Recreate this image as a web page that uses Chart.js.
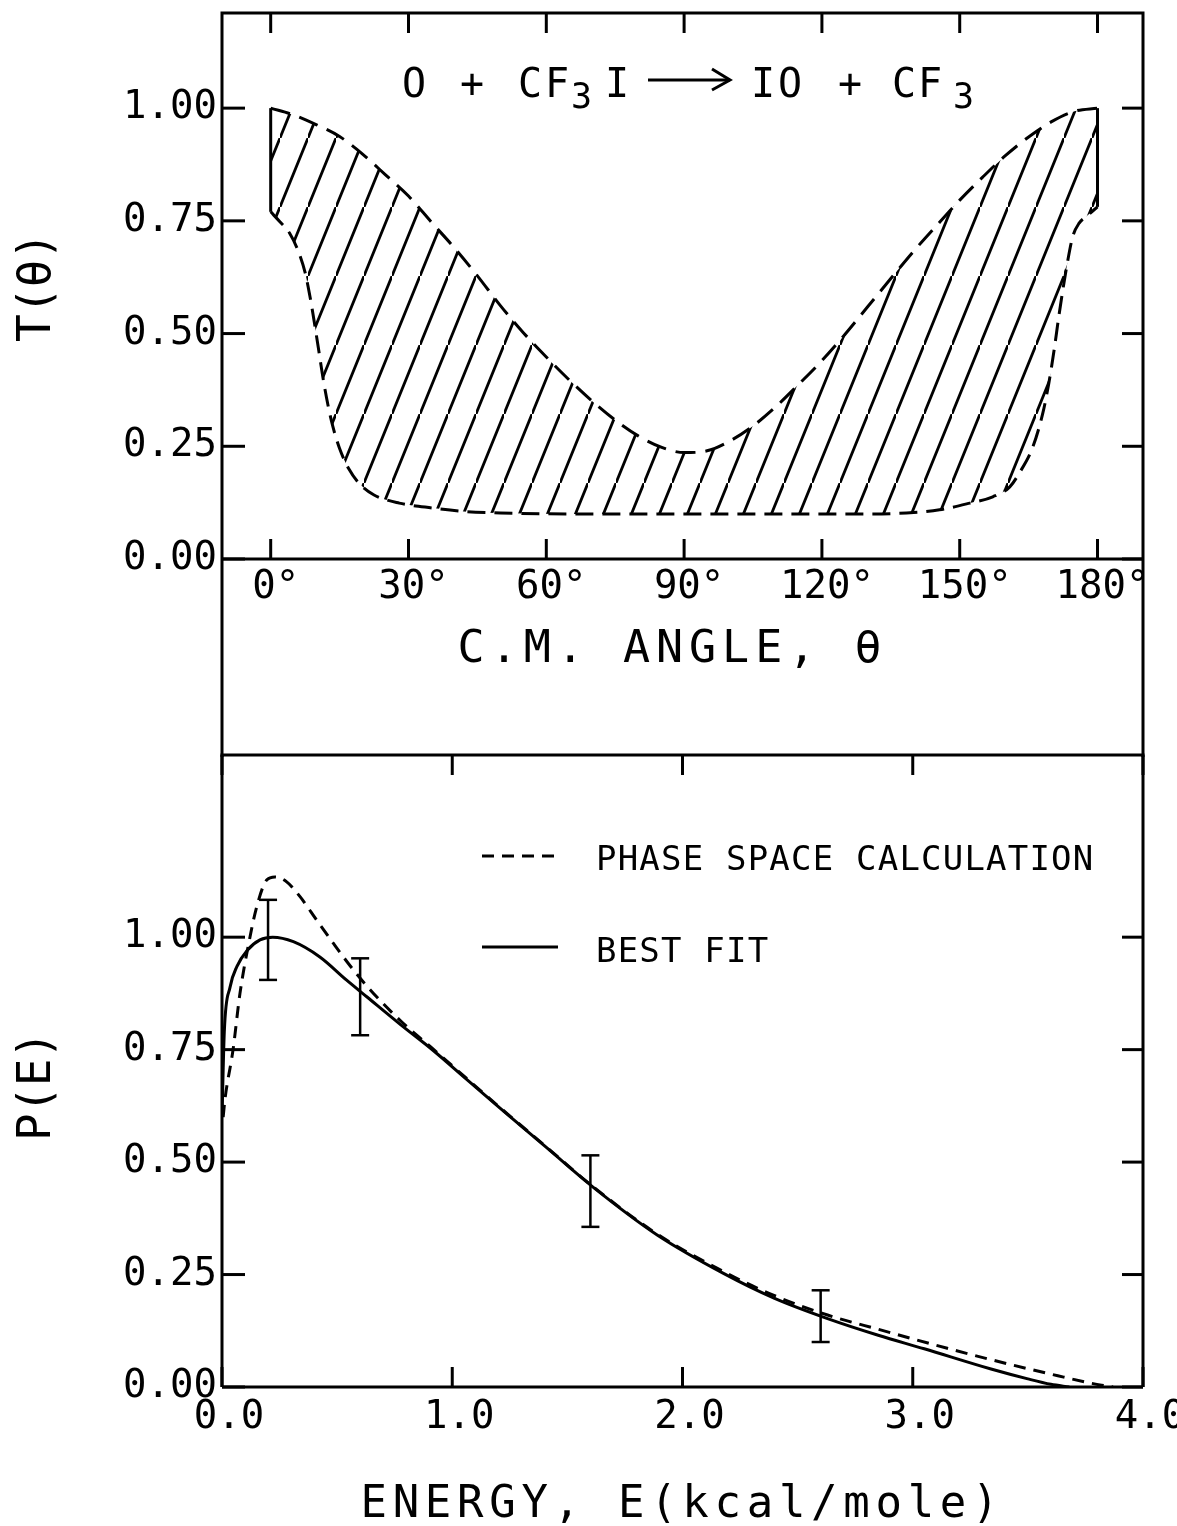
<!DOCTYPE html>
<html>
<head>
<meta charset="utf-8">
<script src="https://cdn.jsdelivr.net/npm/chart.js@4.4.1/dist/chart.umd.min.js"></script>
<style>
    html, body { margin: 0; padding: 0; background: #fff; }
    body { width: 1177px; height: 1526px; position: relative; overflow: hidden; }
    canvas { position: absolute; left: 0; }
    #angleChart { top: 0; }
    #energyChart { top: 745px; }
</style>
</head>
<body>
<canvas id="angleChart" width="1177" height="757"></canvas>
<canvas id="energyChart" width="1177" height="781"></canvas>
<script>
// T(theta) band for O + CF3I -> IO + CF3
const upperAngle = [0, 5, 10, 15, 20, 25, 30, 35, 40, 45, 50, 55, 60, 65, 70, 75, 80, 85, 90,
    95, 100, 105, 110, 115, 120, 125, 130, 135, 140, 145, 150, 155, 160, 165, 170, 175, 180];
const upperT = [1.0, 0.985, 0.963, 0.937, 0.898, 0.852, 0.805, 0.747, 0.69, 0.628, 0.562, 0.502, 0.448, 0.397, 0.35, 0.308, 0.273, 0.248, 0.236,
    0.24, 0.262, 0.295, 0.338, 0.388, 0.44, 0.498, 0.56, 0.622, 0.683, 0.74, 0.796, 0.847, 0.895, 0.936, 0.97, 0.993, 1.0];
const lowerAngle = [0, 2, 4.1, 6.3, 7.5, 8.5, 9.5, 10.5, 11.5, 12.5, 13.5, 15, 17, 19.5, 22.5, 28, 35.3, 42.6, 50, 65, 90, 115,
    130, 138.4, 145.6, 152.2, 157.2, 160.9, 163, 165.9, 168.1, 169.4, 170.5, 171.6, 172.5, 173.4, 174.6, 176, 177.6, 180];
const lowerT = [0.77, 0.748, 0.723, 0.675, 0.635, 0.585, 0.525, 0.46, 0.395, 0.34, 0.295, 0.245, 0.2, 0.165, 0.142, 0.124, 0.113, 0.105, 0.102, 0.1, 0.1, 0.1,
    0.1, 0.102, 0.109, 0.124, 0.138, 0.16, 0.191, 0.248, 0.324, 0.39, 0.46, 0.54, 0.6, 0.655, 0.715, 0.745, 0.76, 0.781];
const angleTicks = [0, 30, 60, 90, 120, 150, 180];
const tTicks = [0, 0.25, 0.5, 0.75, 1.0];

// P(E) curves and measured points with error bars
const bestFitE = [0, 0.01, 0.035, 0.065, 0.11, 0.165, 0.22, 0.31, 0.425, 0.54, 0.63, 0.77, 0.92, 1.06, 1.21, 1.41, 1.61, 1.89, 2.18,
    2.4, 2.63, 2.85, 3.05, 3.34, 3.5, 3.6, 3.68];
const bestFitP = [0.6, 0.79, 0.889, 0.935, 0.971, 0.994, 1.0, 0.99, 0.956, 0.905, 0.867, 0.808, 0.747, 0.685, 0.619, 0.532, 0.445, 0.338, 0.252,
    0.197, 0.152, 0.115, 0.085, 0.04, 0.018, 0.006, 0];
const phaseE = [0.005, 0.013, 0.048, 0.078, 0.113, 0.151, 0.194, 0.23, 0.281, 0.339, 0.411, 0.484, 0.571, 0.658, 0.78, 0.92, 1.06, 1.21, 1.41, 1.61,
    1.89, 2.18, 2.4, 2.63, 2.86, 3.15, 3.44, 3.63, 3.75, 3.82, 3.87];
const phaseP = [0.6, 0.64, 0.75, 0.875, 0.978, 1.068, 1.127, 1.134, 1.123, 1.09, 1.038, 0.986, 0.927, 0.875, 0.812, 0.75, 0.687, 0.62, 0.533, 0.446,
    0.34, 0.256, 0.203, 0.16, 0.127, 0.086, 0.048, 0.025, 0.011, 0.004, 0];
const errE = [0.2, 0.6, 1.6, 2.6];
const errLow = [0.905, 0.782, 0.356, 0.10];
const errHigh = [1.083, 0.953, 0.515, 0.215];
const energyTicks = [0, 1, 2, 3, 4];
const pTicks = [0, 0.25, 0.5, 0.75, 1.0];

const MONO = '"DejaVu Sans Mono", monospace';
const INK = '#000';

function toPoints(xs, ys) {
    return xs.map((x, i) => ({ x: x, y: ys[i] }));
}

// diagonal hatching used to fill the band between the two T(theta) curves
function makeHatch(spacing, angleDeg, lineWidth) {
    const w = spacing;
    const h = Math.round(spacing * Math.tan(angleDeg * Math.PI / 180));
    const c = document.createElement('canvas');
    c.width = w;
    c.height = h;
    const g = c.getContext('2d');
    g.strokeStyle = INK;
    g.lineWidth = lineWidth;
    g.beginPath();
    g.moveTo(-w, 2 * h);
    g.lineTo(2 * w, -h);
    g.stroke();
    return g.createPattern(c, 'repeat');
}

function seg(ctx, x1, y1, x2, y2) {
    ctx.beginPath();
    ctx.moveTo(x1, y1);
    ctx.lineTo(x2, y2);
    ctx.stroke();
}

// plotter-like text; width (optional) stretches the letter spacing
function label(ctx, str, x, y, size, opts = {}) {
    ctx.save();
    ctx.fillStyle = INK;
    ctx.font = size + 'px ' + MONO;
    ctx.textAlign = 'left';
    ctx.textBaseline = 'alphabetic';
    ctx.letterSpacing = '0px';
    const natural = ctx.measureText(str).width;
    const n = Array.from(str).length;
    let spacing = opts.spacing || 0;
    if (opts.width && n > 1) {
        spacing = (opts.width - natural) / (n - 1);
    }
    const w = natural + spacing * (n - 1);
    ctx.letterSpacing = spacing + 'px';
    if (opts.rotate) {
        ctx.translate(x, y);
        ctx.rotate(-Math.PI / 2);
        ctx.fillText(str, -w / 2, 0);
    } else {
        ctx.fillText(str, opts.align === 'center' ? x - w / 2 : x, y);
    }
    ctx.restore();
}

function drawFrame(chart, xTicks, yTicks, frameBottom) {
    const { ctx, chartArea: ca, scales: { x, y } } = chart;
    ctx.save();
    ctx.strokeStyle = INK;
    ctx.lineWidth = 3;
    ctx.lineJoin = 'miter';
    ctx.beginPath();
    ctx.moveTo(ca.left, frameBottom);
    ctx.lineTo(ca.left, ca.top);
    ctx.lineTo(ca.right, ca.top);
    ctx.lineTo(ca.right, frameBottom);
    ctx.stroke();
    seg(ctx, ca.left, ca.bottom, ca.right, ca.bottom);
    xTicks.forEach((v) => {
        const px = x.getPixelForValue(v);
        seg(ctx, px, ca.top, px, ca.top + 20);
        seg(ctx, px, ca.bottom, px, ca.bottom - 20);
    });
    yTicks.forEach((v) => {
        const py = y.getPixelForValue(v);
        seg(ctx, ca.left, py, ca.left + 23, py);
        seg(ctx, ca.right, py, ca.right - 21, py);
    });
    ctx.restore();
}

const angleDecor = {
    id: 'angleDecor',
    afterDraw(chart) {
        const { ctx, chartArea: ca, scales: { x, y } } = chart;
        drawFrame(chart, angleTicks, tTicks, chart.height);

        // solid ends of the band at 0 and 180 degrees
        ctx.save();
        ctx.strokeStyle = INK;
        ctx.lineWidth = 3;
        const last = upperAngle.length - 1;
        const lastLow = lowerAngle.length - 1;
        seg(ctx, x.getPixelForValue(upperAngle[0]), y.getPixelForValue(upperT[0]),
            x.getPixelForValue(lowerAngle[0]), y.getPixelForValue(lowerT[0]));
        seg(ctx, x.getPixelForValue(upperAngle[last]), y.getPixelForValue(upperT[last]),
            x.getPixelForValue(lowerAngle[lastLow]), y.getPixelForValue(lowerT[lastLow]));

        // reaction label
        const L = ca.left;
        const T = ca.top;
        label(ctx, 'O', L + 180, T + 84, 40);
        label(ctx, '+', L + 250, T + 84, 40, { align: 'center' });
        label(ctx, 'CF', L + 296, T + 84, 40, { spacing: 3 });
        label(ctx, '3', L + 349, T + 95, 35);
        label(ctx, 'I', L + 383, T + 84, 40);
        ctx.lineWidth = 3;
        seg(ctx, L + 426, T + 67, L + 508, T + 67);
        ctx.beginPath();
        ctx.moveTo(L + 490, T + 56);
        ctx.lineTo(L + 508, T + 67);
        ctx.lineTo(L + 490, T + 77);
        ctx.stroke();
        label(ctx, 'IO', L + 529, T + 84, 40, { spacing: 3 });
        label(ctx, '+', L + 628, T + 84, 40, { align: 'center' });
        label(ctx, 'CF', L + 670, T + 84, 40, { spacing: 2 });
        label(ctx, '3', L + 731, T + 95, 35);
        ctx.restore();

        // axis titles
        const midX = (ca.left + ca.right) / 2;
        label(ctx, 'C.M. ANGLE, θ', midX - 13, ca.bottom + 103, 45, { align: 'center', width: 424 });
        label(ctx, 'T(θ)', ca.left - 172, (ca.top + ca.bottom) / 2 + 1, 46, { rotate: true, width: 110 });
    }
};

const energyDecor = {
    id: 'energyDecor',
    afterDraw(chart) {
        const { ctx, chartArea: ca, scales: { x, y } } = chart;
        drawFrame(chart, energyTicks, pTicks, ca.bottom);

        // error bars
        ctx.save();
        ctx.strokeStyle = INK;
        ctx.lineWidth = 2.5;
        errE.forEach((e, i) => {
            const px = x.getPixelForValue(e);
            const lo = y.getPixelForValue(errLow[i]);
            const hi = y.getPixelForValue(errHigh[i]);
            seg(ctx, px, lo, px, hi);
            seg(ctx, px - 9, lo, px + 9, lo);
            seg(ctx, px - 9, hi, px + 9, hi);
        });

        // legend
        const sets = chart.data.datasets;
        const L = ca.left;
        const T = ca.top;
        ctx.lineWidth = 3;
        ctx.setLineDash(sets[0].borderDash);
        seg(ctx, L + 260, T + 101, L + 336, T + 101);
        ctx.setLineDash([]);
        seg(ctx, L + 260, T + 192, L + 336, T + 192);
        ctx.restore();
        label(ctx, sets[0].label, L + 374, T + 115, 34, { spacing: 1.2 });
        label(ctx, sets[1].label, L + 374, T + 207, 34, { spacing: 1.2 });

        // axis titles
        const midX = (ca.left + ca.right) / 2;
        label(ctx, 'ENERGY, E(kcal/mole)', midX - 3, ca.bottom + 130, 44, { align: 'center', width: 638 });
        label(ctx, 'P(E)', ca.left - 172, ca.top + 331, 46, { rotate: true, width: 110 });
    }
};

function tickFont() {
    return { family: MONO, size: 39 };
}

function fixedTicks(values) {
    return (axis) => {
        axis.ticks = values.map((v) => ({ value: v }));
    };
}

new Chart(document.getElementById('angleChart'), {
    type: 'line',
    data: {
        datasets: [{
            label: 'upper bound',
            data: toPoints(upperAngle, upperT),
            borderColor: INK,
            borderWidth: 3,
            borderDash: [20, 10],
            backgroundColor: makeHatch(28, 68, 2.8),
            fill: '+1',
            pointRadius: 0,
            cubicInterpolationMode: 'monotone'
        }, {
            label: 'lower bound',
            data: toPoints(lowerAngle, lowerT),
            borderColor: INK,
            borderWidth: 3,
            borderDash: [18, 9],
            fill: false,
            pointRadius: 0,
            cubicInterpolationMode: 'monotone'
        }]
    },
    options: {
        responsive: false,
        animation: false,
        devicePixelRatio: 1,
        layout: { padding: { top: 13, right: 34, left: 0, bottom: 0 } },
        plugins: { legend: { display: false }, tooltip: { enabled: false } },
        scales: {
            x: {
                type: 'linear',
                min: -10.6,
                max: 189.9,
                grid: { display: false, drawTicks: false },
                border: { display: false },
                afterBuildTicks: fixedTicks(angleTicks),
                afterFit: (axis) => { axis.height = 198; axis.paddingLeft = 0; axis.paddingRight = 0; },
                ticks: {
                    autoSkip: false, maxRotation: 0, minRotation: 0,
                    padding: 5, labelOffset: 5, color: INK, font: tickFont(),
                    callback: (v) => v + '°'
                }
            },
            y: {
                min: 0,
                max: 1.211,
                grid: { display: false, drawTicks: false },
                border: { display: false },
                afterBuildTicks: fixedTicks(tTicks),
                afterFit: (axis) => { axis.width = 222; axis.paddingTop = 0; axis.paddingBottom = 0; },
                ticks: { padding: 5, color: INK, font: tickFont(), callback: (v) => Number(v).toFixed(2) }
            }
        }
    },
    plugins: [angleDecor]
});

new Chart(document.getElementById('energyChart'), {
    type: 'line',
    data: {
        datasets: [{
            label: 'PHASE SPACE CALCULATION',
            data: toPoints(phaseE, phaseP),
            borderColor: INK,
            borderWidth: 3,
            borderDash: [12, 8],
            fill: false,
            pointRadius: 0,
            cubicInterpolationMode: 'monotone'
        }, {
            label: 'BEST FIT',
            data: toPoints(bestFitE, bestFitP),
            borderColor: INK,
            borderWidth: 3,
            fill: false,
            pointRadius: 0,
            cubicInterpolationMode: 'monotone'
        }]
    },
    options: {
        responsive: false,
        animation: false,
        devicePixelRatio: 1,
        layout: { padding: { top: 10, right: 34, left: 0, bottom: 0 } },
        plugins: { legend: { display: false }, tooltip: { enabled: false } },
        scales: {
            x: {
                type: 'linear',
                min: 0,
                max: 4,
                grid: { display: false, drawTicks: false },
                border: { display: false },
                afterBuildTicks: fixedTicks(energyTicks),
                afterFit: (axis) => { axis.height = 139; axis.paddingLeft = 0; axis.paddingRight = 0; },
                ticks: {
                    autoSkip: false, maxRotation: 0, minRotation: 0,
                    padding: 7, labelOffset: 7, color: INK, font: tickFont(),
                    callback: (v) => Number(v).toFixed(1)
                }
            },
            y: {
                min: 0,
                max: 1.405,
                grid: { display: false, drawTicks: false },
                border: { display: false },
                afterBuildTicks: fixedTicks(pTicks),
                afterFit: (axis) => { axis.width = 222; axis.paddingTop = 0; axis.paddingBottom = 0; },
                ticks: { padding: 5, color: INK, font: tickFont(), callback: (v) => Number(v).toFixed(2) }
            }
        }
    },
    plugins: [energyDecor]
});
</script>
</body>
</html>
